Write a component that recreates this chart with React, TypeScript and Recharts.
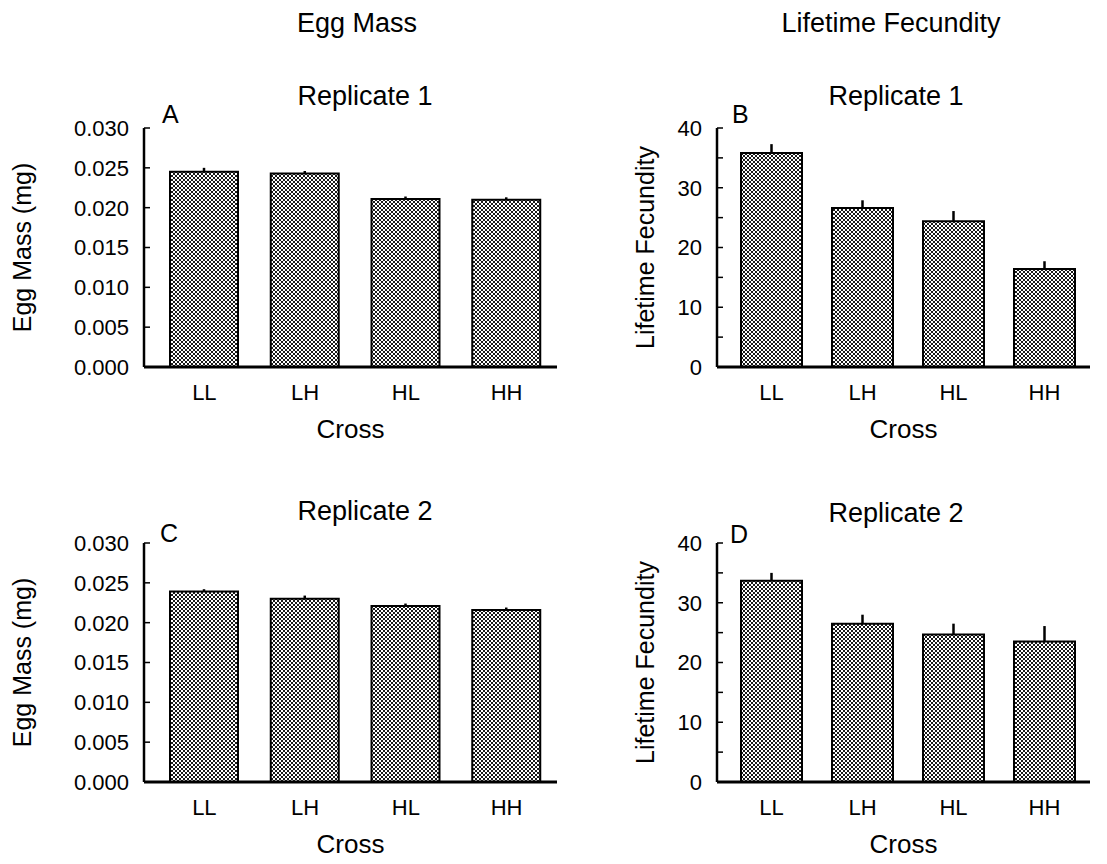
import { Bar, BarChart, ErrorBar, XAxis, YAxis } from "recharts";

const FONT = "'Liberation Sans', Arial, Helvetica, sans-serif";

const crosses = ["LL", "LH", "HL", "HH"];

const eggMassRep1 = [0.0245, 0.0243, 0.0211, 0.021];
const eggMassRep1Se = [0.0005, 0.0003, 0.0003, 0.0003];
const fecundityRep1 = [35.8, 26.6, 24.4, 16.4];
const fecundityRep1Se = [1.5, 1.3, 1.7, 1.3];

const eggMassRep2 = [0.0239, 0.023, 0.0221, 0.0216];
const eggMassRep2Se = [0.0003, 0.0004, 0.0003, 0.0003];
const fecundityRep2 = [33.7, 26.5, 24.7, 23.5];
const fecundityRep2Se = [1.3, 1.5, 1.8, 2.6];

const eggMassTicks = [0, 0.005, 0.01, 0.015, 0.02, 0.025, 0.03];
const fecundityTicks = [0, 5, 10, 15, 20, 25, 30, 35, 40];

const toRows = (values: number[], se: number[]) =>
  crosses.map((cross, i) => ({ cross, value: values[i], err: [0, se[i]] }));

const TICK_MARGIN = 15;

interface PanelProps {
  id: string;
  left: number;
  top: number;
  width: number;
  yWidth: number;
  padLeft: number;
  barSize: number;
  values: number[];
  se: number[];
  ticks: number[];
  yLabel: string;
  yLabelOffset: number;
  format: (v: number) => string;
}

const Panel = ({
  id,
  left,
  top,
  width,
  yWidth,
  padLeft,
  barSize,
  values,
  se,
  ticks,
  yLabel,
  yLabelOffset,
  format,
}: PanelProps) => {
  const data = toRows(values, se);
  // ticks point into the plot, labels sit left of the axis
  const renderTick = (props: any) => {
    const { x, y, payload } = props;
    const axisX = x + TICK_MARGIN;
    const label = format(payload.value);
    return (
      <g>
        <line x1={axisX} x2={axisX + 6} y1={y} y2={y} stroke="#000" strokeWidth={1.5} />
        {label && (
          <text x={x} y={y} dy="0.36em" textAnchor="end" fontSize={22} fill="#000" fontFamily={FONT}>
            {label}
          </text>
        )}
      </g>
    );
  };

  return (
    <div style={{ position: "absolute", left, top }}>
      <BarChart
        width={width}
        height={457}
        data={data}
        margin={{ top: 128, right: 0, bottom: 0, left: 0 }}
      >
        <defs>
          <pattern id={id} width={4} height={4} patternUnits="userSpaceOnUse">
            <rect width={4} height={4} fill="#fff" />
            <path d="M0,0 L4,4 M4,0 L0,4" stroke="#1a1a1a" strokeWidth={1} />
          </pattern>
        </defs>
        <XAxis
          dataKey="cross"
          height={90}
          padding={{ left: padLeft, right: 0 }}
          tickLine={false}
          tickSize={0}
          tickMargin={17}
          axisLine={{ stroke: "#000", strokeWidth: 3 }}
          tick={{ fontSize: 22, fill: "#000", fontFamily: FONT }}
          label={{
            value: "Cross",
            position: "insideBottom",
            offset: 19,
            style: { fontSize: 26, fill: "#000", fontFamily: FONT },
          }}
        />
        <YAxis
          width={yWidth}
          domain={[ticks[0], ticks[ticks.length - 1]]}
          ticks={ticks}
          interval={0}
          tickLine={false}
          tickSize={0}
          tickMargin={TICK_MARGIN}
          axisLine={{ stroke: "#000", strokeWidth: 2.5 }}
          tick={renderTick}
          label={{
            value: yLabel,
            angle: -90,
            position: "insideLeft",
            offset: yLabelOffset,
            style: { fontSize: 25, fill: "#000", fontFamily: FONT, textAnchor: "middle" },
          }}
        />
        <Bar
          dataKey="value"
          barSize={barSize}
          fill={`url(#${id})`}
          stroke="#000"
          strokeWidth={2}
          isAnimationActive={false}
        >
          <ErrorBar
            dataKey="err"
            direction="y"
            width={0}
            stroke="#000"
            strokeWidth={2.5}
            isAnimationActive={false}
          />
        </Bar>
      </BarChart>
    </div>
  );
};

const eggFormat = (v: number) => v.toFixed(3);
const fecFormat = (v: number) => (v % 10 === 0 ? String(v) : "");

const textStyle = { fontFamily: FONT, fill: "#000" };

export default function App() {
  return (
    <div
      style={{
        position: "absolute",
        left: 0,
        top: 0,
        width: 1107,
        height: 864,
        background: "#fff",
        fontFamily: FONT,
      }}
    >
      <Panel
        id="hatchA"
        left={0}
        top={0}
        width={557}
        yWidth={144}
        padLeft={10}
        barSize={68}
        values={eggMassRep1}
        se={eggMassRep1Se}
        ticks={eggMassTicks}
        yLabel="Egg Mass (mg)"
        yLabelOffset={22}
        format={eggFormat}
      />
      <Panel
        id="hatchB"
        left={560}
        top={0}
        width={530}
        yWidth={157}
        padLeft={9}
        barSize={61}
        values={fecundityRep1}
        se={fecundityRep1Se}
        ticks={fecundityTicks}
        yLabel="Lifetime Fecundity"
        yLabelOffset={85}
        format={fecFormat}
      />
      <Panel
        id="hatchC"
        left={0}
        top={415}
        width={557}
        yWidth={144}
        padLeft={10}
        barSize={68}
        values={eggMassRep2}
        se={eggMassRep2Se}
        ticks={eggMassTicks}
        yLabel="Egg Mass (mg)"
        yLabelOffset={22}
        format={eggFormat}
      />
      <Panel
        id="hatchD"
        left={560}
        top={415}
        width={530}
        yWidth={157}
        padLeft={9}
        barSize={61}
        values={fecundityRep2}
        se={fecundityRep2Se}
        ticks={fecundityTicks}
        yLabel="Lifetime Fecundity"
        yLabelOffset={85}
        format={fecFormat}
      />
      <svg
        width={1107}
        height={864}
        style={{ position: "absolute", left: 0, top: 0, pointerEvents: "none" }}
      >
        <text x={357} y={32} textAnchor="middle" fontSize={27} style={textStyle}>
          Egg Mass
        </text>
        <text x={891} y={32} textAnchor="middle" fontSize={27} style={textStyle}>
          Lifetime Fecundity
        </text>
        <text x={365} y={105} textAnchor="middle" fontSize={27} style={textStyle}>
          Replicate 1
        </text>
        <text x={896} y={105} textAnchor="middle" fontSize={27} style={textStyle}>
          Replicate 1
        </text>
        <text x={365} y={520} textAnchor="middle" fontSize={27} style={textStyle}>
          Replicate 2
        </text>
        <text x={896} y={522} textAnchor="middle" fontSize={27} style={textStyle}>
          Replicate 2
        </text>
        <text x={162} y={123} fontSize={25} style={textStyle}>A</text>
        <text x={732} y={123} fontSize={25} style={textStyle}>B</text>
        <text x={160} y={542} fontSize={25} style={textStyle}>C</text>
        <text x={730} y={543} fontSize={25} style={textStyle}>D</text>
      </svg>
    </div>
  );
}
